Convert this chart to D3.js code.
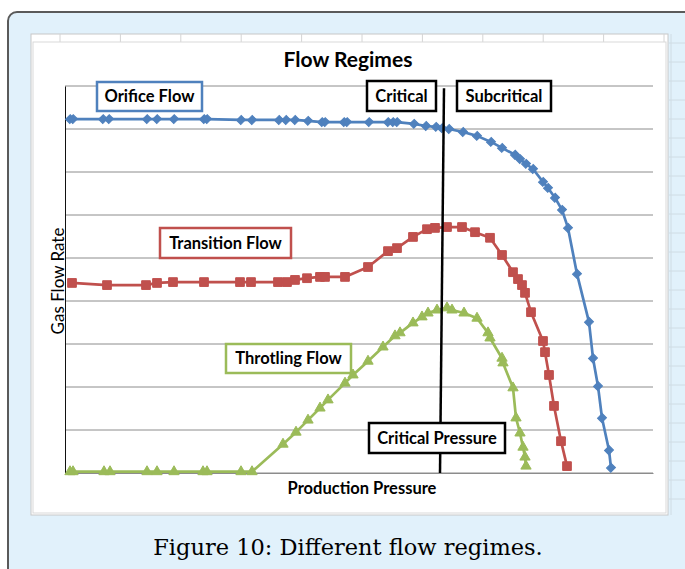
<!DOCTYPE html>
<html>
<head>
<meta charset="utf-8">
<script src="https://cdn.jsdelivr.net/npm/d3@7"></script>
<style>
  html, body { margin: 0; padding: 0; background: #fff; }
  svg { display: block; }
</style>
</head>
<body>
<script>
// production pressure (psi) and gas flow rate for each regime
var orificeP = [25, 40, 190, 220, 410, 460, 545, 695, 710, 880, 935, 1070, 1105, 1150, 1215, 1285, 1300, 1395, 1410, 1520,
                1615, 1640, 1660, 1745, 1805, 1855, 1885, 1920, 1990, 2060, 2130, 2185, 2250, 2275, 2305, 2340, 2390, 2415,
                2450, 2485, 2515, 2560, 2620, 2640, 2665, 2685, 2720, 2730];
var orificeQ = [8.23, 8.23, 8.23, 8.23, 8.23, 8.23, 8.23, 8.23, 8.23, 8.21, 8.21, 8.21, 8.21, 8.21, 8.19, 8.16, 8.16, 8.16, 8.16, 8.16,
                8.16, 8.16, 8.16, 8.12, 8.07, 8.05, 8.02, 8.00, 7.93, 7.84, 7.70, 7.56, 7.40, 7.30, 7.19, 7.07, 6.77, 6.63,
                6.40, 6.12, 5.70, 4.63, 3.51, 2.67, 2.02, 1.28, 0.53, 0.12];

var transitionP = [35, 210, 405, 460, 540, 695, 875, 930, 1065, 1110, 1150, 1210, 1275, 1300, 1400, 1515, 1615, 1660, 1740, 1810,
                   1850, 1910, 1985, 2050, 2125, 2185, 2240, 2265, 2285, 2300, 2330, 2390, 2400, 2420, 2445, 2480, 2510];
var transitionQ = [4.42, 4.37, 4.37, 4.42, 4.44, 4.44, 4.44, 4.44, 4.44, 4.44, 4.49, 4.53, 4.56, 4.56, 4.56, 4.79, 5.16, 5.23, 5.49, 5.67,
                   5.70, 5.72, 5.72, 5.60, 5.47, 5.07, 4.67, 4.51, 4.37, 4.19, 3.74, 3.07, 2.81, 2.28, 1.56, 0.74, 0.16];

var throttlingP = [25, 40, 195, 225, 410, 460, 545, 690, 710, 880, 935, 1090, 1155, 1215, 1275, 1315, 1400, 1440, 1515, 1590,
                   1650, 1675, 1740, 1785, 1815, 1860, 1910, 1935, 1995, 2060, 2115, 2125, 2185, 2190, 2240, 2255, 2275, 2290,
                   2300, 2305];
var throttlingQ = [0.03, 0.03, 0.03, 0.03, 0.03, 0.03, 0.03, 0.03, 0.03, 0.03, 0.03, 0.67, 0.95, 1.23, 1.51, 1.70, 2.09, 2.28, 2.60, 2.93,
                   3.19, 3.26, 3.49, 3.63, 3.72, 3.79, 3.84, 3.79, 3.72, 3.60, 3.26, 3.14, 2.67, 2.56, 1.98, 1.28, 0.93, 0.60,
                   0.37, 0.16];

// critical pressure marker line (top, bottom)
var criticalP = [1895, 1875];
var criticalQ = [8.95, 0];

const WIDTH = 685;
const HEIGHT = 569;

var svg = d3.select("body").append("svg")
    .attr("width", WIDTH)
    .attr("height", HEIGHT);

// light blue figure panel
svg.append("rect")
    .attr("x", 8).attr("y", 12)
    .attr("width", 720).attr("height", 620)
    .attr("rx", 9)
    .attr("fill", "#e1f1fb")
    .attr("stroke", "#5a5a5a")
    .attr("stroke-width", 2);

// faint spreadsheet cell lines peeking around the chart
var cellRows = d3.range(43, 515, 19);
svg.append("g").selectAll("line")
    .data(cellRows)
    .enter().append("line")
    .attr("x1", 669).attr("x2", 685)
    .attr("y1", d => d).attr("y2", d => d)
    .attr("stroke", "#cfdce4");
svg.append("line")
    .attr("x1", 671).attr("x2", 671).attr("y1", 34).attr("y2", 515)
    .attr("stroke", "#cfdce4");

// sheet and chart area
svg.append("rect")
    .attr("x", 31).attr("y", 34)
    .attr("width", 637).attr("height", 481)
    .attr("fill", "#fff")
    .attr("stroke", "#c8c8c8");

var cellCols = d3.range(60, 668, 60.4);
svg.append("g").selectAll("line")
    .data(cellCols)
    .enter().append("line")
    .attr("x1", d => d).attr("x2", d => d)
    .attr("y1", 34).attr("y2", 42)
    .attr("stroke", "#d4d4d4");

svg.append("rect")
    .attr("x", 33).attr("y", 42)
    .attr("width", 633).attr("height", 471)
    .attr("fill", "#fff")
    .attr("stroke", "#d9d9d9");

// scales
var x = d3.scaleLinear().domain([0, 2940]).range([65, 653]);
var y = d3.scaleLinear().domain([0, 9]).range([473, 86]);

// horizontal gridlines
svg.append("g").selectAll("line")
    .data(y.ticks(9))
    .enter().append("line")
    .attr("x1", x(0)).attr("x2", x(2940))
    .attr("y1", d => y(d)).attr("y2", d => y(d))
    .attr("stroke", "#8c8c8c")
    .attr("stroke-width", 1);

// axes (no tick labels)
svg.append("g")
    .attr("transform", `translate(0,${y(0)})`)
    .call(d3.axisBottom(x).tickValues([]).tickSizeOuter(0))
    .select(".domain").attr("stroke", "#8c8c8c");
svg.append("g")
    .attr("transform", `translate(${x(0)},0)`)
    .call(d3.axisLeft(y).tickValues([]).tickSizeOuter(0))
    .select(".domain").attr("stroke", "#111");

var series = [
    { p: orificeP, q: orificeQ, color: "#4f81bd", shape: "diamond" },
    { p: transitionP, q: transitionQ, color: "#c0504d", shape: "square" },
    { p: throttlingP, q: throttlingQ, color: "#9bbb59", shape: "triangle" }
];

var line = d3.line().x(d => x(d[0])).y(d => y(d[1]));

series.forEach(function(s) {
    var pts = s.p.map((v, i) => [v, s.q[i]]);
    var g = svg.append("g");
    g.append("path")
        .datum(pts)
        .attr("d", line)
        .attr("fill", "none")
        .attr("stroke", s.color)
        .attr("stroke-width", 2.7)
        .attr("stroke-linejoin", "round");

    var sym;
    if (s.shape === "diamond") sym = d3.symbol().type(d3.symbolSquare).size(36);
    else if (s.shape === "square") sym = d3.symbol().type(d3.symbolSquare).size(76);
    else sym = d3.symbol().type(d3.symbolTriangle).size(46);

    g.selectAll("path.mark")
        .data(pts)
        .enter().append("path")
        .attr("class", "mark")
        .attr("d", sym)
        .attr("transform", d => `translate(${x(d[0])},${y(d[1])})` + (s.shape === "diamond" ? " rotate(45) scale(1,1.1)" : ""))
        .attr("fill", s.color)
        .attr("stroke", s.color)
        .attr("stroke-width", 1);
});

// critical pressure line
svg.append("line")
    .attr("x1", x(criticalP[0])).attr("y1", y(criticalQ[0]))
    .attr("x2", x(criticalP[1])).attr("y2", y(criticalQ[1]))
    .attr("stroke", "#000")
    .attr("stroke-width", 2.5);

// title and axis titles
svg.append("text")
    .attr("x", 348).attr("y", 67)
    .attr("text-anchor", "middle")
    .attr("font-family", "Lato, sans-serif")
    .attr("font-weight", "bold")
    .attr("font-size", "21px")
    .attr("fill", "#000")
    .text("Flow Regimes");

svg.append("text")
    .attr("x", 362).attr("y", 494)
    .attr("text-anchor", "middle")
    .attr("font-family", "Lato, sans-serif")
    .attr("font-weight", "bold")
    .attr("font-size", "16.5px")
    .attr("fill", "#000")
    .text("Production Pressure");

svg.append("text")
    .attr("transform", "translate(64,281) rotate(-90)")
    .attr("text-anchor", "middle")
    .attr("font-family", "Lato, sans-serif")
    .attr("font-size", "17px")
    .attr("fill", "#000")
    .text("Gas Flow Rate");

// annotation boxes
var notes = [
    { text: "Orifice Flow", x: 97, y: 82, w: 105, h: 29, color: "#4f81bd" },
    { text: "Critical", x: 367, y: 81, w: 69, h: 30, color: "#000" },
    { text: "Subcritical", x: 457, y: 81, w: 94, h: 30, color: "#000" },
    { text: "Transition Flow", x: 160, y: 228, w: 131, h: 30, color: "#c0504d" },
    { text: "Throtling Flow", x: 226, y: 344, w: 125, h: 29, color: "#9bbb59" },
    { text: "Critical Pressure", x: 369, y: 423, w: 136, h: 30, color: "#000" }
];

var ng = svg.append("g").selectAll("g")
    .data(notes)
    .enter().append("g");
ng.append("rect")
    .attr("x", d => d.x).attr("y", d => d.y)
    .attr("width", d => d.w).attr("height", d => d.h)
    .attr("fill", "#fff")
    .attr("stroke", d => d.color)
    .attr("stroke-width", 2.5);
ng.append("text")
    .attr("x", d => d.x + d.w / 2)
    .attr("y", d => d.y + d.h / 2 + 5.5)
    .attr("text-anchor", "middle")
    .attr("font-family", "Lato, sans-serif")
    .attr("font-weight", "bold")
    .attr("font-size", "16.5px")
    .attr("fill", "#000")
    .text(d => d.text);

// figure caption
svg.append("text")
    .attr("x", 348).attr("y", 555)
    .attr("text-anchor", "middle")
    .attr("font-family", "'DejaVu Serif', serif")
    .attr("font-size", "22.5px")
    .attr("fill", "#000")
    .text("Figure 10: Different flow regimes.");
</script>
</body>
</html>
